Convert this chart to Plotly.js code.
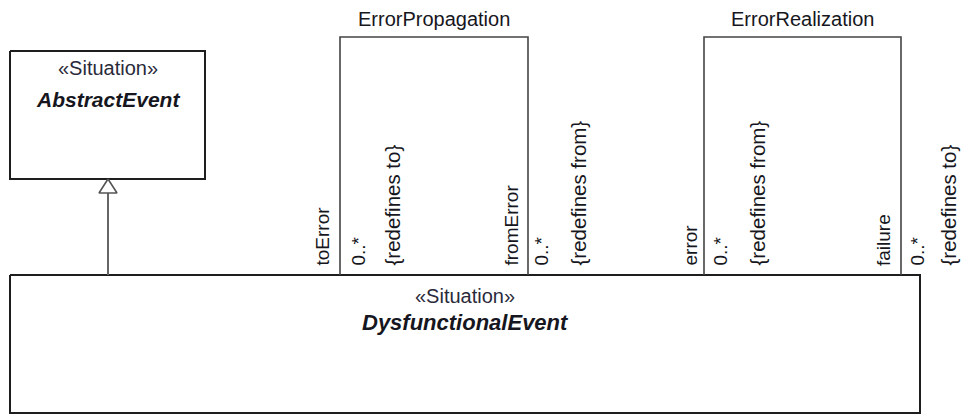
<!DOCTYPE html>
<html>
<head>
<meta charset="utf-8">
<script src="https://cdn.plot.ly/plotly-3.0.1.min.js"></script>
<style>html,body{margin:0;padding:0;background:#fff;}#plot{width:961px;height:415px;}</style>
</head>
<body>
<div id="plot"></div>
<script>
// ---- diagram data ----
// class boxes (closed rectangles)
const classNames   = ["AbstractEvent", "DysfunctionalEvent"];
const classStereo  = ["«Situation»", "«Situation»"];
const classX0      = [10, 10];
const classX1      = [205, 920];
const classY0      = [51, 275];
const classY1      = [179, 413];
const classNameY   = [99, 322];
const classStereoY = [68, 296];

// association classes (open-bottom boxes sitting on DysfunctionalEvent)
const assocNames = ["ErrorPropagation", "ErrorRealization"];
const assocX0    = [340, 704];
const assocX1    = [528, 901];
const assocTop   = [37, 37];
const assocBase  = [275, 275];
const assocLabelY = [19, 19];

// rotated role / multiplicity / constraint labels
const roleTexts = ["toError", "0..*", "{redefines to}", "fromError", "0..*", "{redefines from}",
                   "error", "0..*", "{redefines from}", "failure", "0..*", "{redefines to}"];
const roleX     = [322, 358, 392, 511, 541, 578, 690, 720, 757, 883, 917, 948];
const roleBottom = 267;

// generalization DysfunctionalEvent -> AbstractEvent
const genX = 108;
const genFromY = 275;
const genTipY = 179;
const genBaseY = 193;
const genHalfW = 9;

// ---- build traces ----
const traces = [];
for (let i = 0; i < classNames.length; i++) {
  traces.push({
    type: "scatter", mode: "lines", hoverinfo: "skip", showlegend: false,
    x: [classX0[i], classX1[i], classX1[i], classX0[i], classX0[i]],
    y: [classY0[i], classY0[i], classY1[i], classY1[i], classY0[i]],
    fill: "toself", fillcolor: "#ffffff",
    line: {color: "#1e1e1e", width: 2}
  });
}
for (let i = 0; i < assocNames.length; i++) {
  traces.push({
    type: "scatter", mode: "lines", hoverinfo: "skip", showlegend: false,
    x: [assocX0[i], assocX0[i], assocX1[i], assocX1[i]],
    y: [assocBase[i], assocTop[i], assocTop[i], assocBase[i]],
    line: {color: "#444444", width: 1.6}
  });
}
// generalization stem
traces.push({
  type: "scatter", mode: "lines", hoverinfo: "skip", showlegend: false,
  x: [genX, genX], y: [genFromY, genBaseY],
  line: {color: "#666666", width: 2}
});
// hollow triangle
traces.push({
  type: "scatter", mode: "lines", hoverinfo: "skip", showlegend: false,
  x: [genX, genX + genHalfW, genX - genHalfW, genX],
  y: [genTipY, genBaseY, genBaseY, genTipY],
  fill: "toself", fillcolor: "#ffffff",
  line: {color: "#555555", width: 1.6}
});

// ---- annotations ----
const FONT = "Liberation Sans, Arial, sans-serif";
const TXT = "#161620";
const annotations = [];
for (let i = 0; i < classNames.length; i++) {
  const cx = (classX0[i] + classX1[i]) / 2;
  annotations.push({x: cx, y: classStereoY[i], xref: "x", yref: "y", text: classStereo[i],
    showarrow: false, xanchor: "center", yanchor: "middle",
    font: {family: FONT, size: 20, color: "#2a2a3a"}});
  annotations.push({x: cx, y: classNameY[i], xref: "x", yref: "y", text: classNames[i],
    showarrow: false, xanchor: "center", yanchor: "middle",
    font: {family: FONT, size: i === 0 ? 21 : 22, color: TXT, weight: "bold", style: "italic"}});
}
for (let i = 0; i < assocNames.length; i++) {
  annotations.push({x: (assocX0[i] + assocX1[i]) / 2, y: assocLabelY[i], xref: "x", yref: "y",
    text: assocNames[i], showarrow: false, xanchor: "center", yanchor: "middle",
    font: {family: FONT, size: 20, color: TXT}});
}
for (let i = 0; i < roleTexts.length; i++) {
  const isConstraint = roleTexts[i].charAt(0) === "{";
  annotations.push({x: roleX[i], y: roleBottom, xref: "x", yref: "y", text: roleTexts[i],
    textangle: -90, showarrow: false, xanchor: "center", yanchor: "bottom",
    borderpad: 0, font: {family: FONT, size: isConstraint ? 20.5 : 19, color: TXT}});
}

const layout = {
  width: 961, height: 415,
  margin: {l: 0, r: 0, t: 0, b: 0, pad: 0},
  paper_bgcolor: "#ffffff", plot_bgcolor: "#ffffff",
  xaxis: {range: [0, 961], visible: false, fixedrange: true},
  yaxis: {range: [415, 0], visible: false, fixedrange: true},
  annotations: annotations,
  showlegend: false
};
Plotly.newPlot("plot", traces, layout, {staticPlot: true, displayModeBar: false});
</script>
</body>
</html>
